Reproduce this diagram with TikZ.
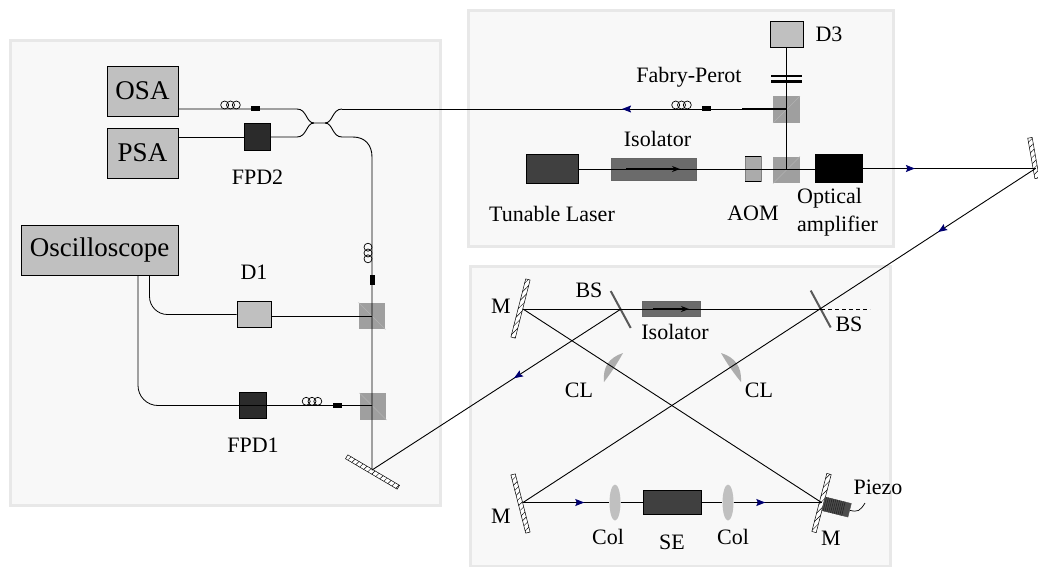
\documentclass[tikz,border=0pt]{standalone}
\usepackage{fontspec}
\setmainfont{Liberation Serif}
\usetikzlibrary{positioning,calc,arrows.meta,decorations.markings,patterns.meta,shapes.geometric}

\definecolor{panelfill}{HTML}{F8F8F8}
\definecolor{paneledge}{HTML}{E8E8E8}
\definecolor{instrgray}{HTML}{C0C0C0}
\definecolor{cubegray}{HTML}{9F9F9F}
\definecolor{tipblue}{HTML}{000070}

\tikzset{
  panel/.style={draw=paneledge,fill=panelfill,line width=3pt},
  box/.style={draw,inner sep=0pt,line width=.8pt},
  instr/.style={box,fill=instrgray,minimum width=71pt,minimum height=50pt,font=\fontsize{27}{30}\selectfont},
  det/.style={box,fill=instrgray,minimum width=34pt,minimum height=26.5pt},
  fpd/.style={box,fill=black!83,minimum width=26.5pt,minimum height=26.5pt},
  cube/.style={fill=cubegray,inner sep=0pt,minimum size=26.5pt},
  plug/.style={fill=black,inner sep=0pt,minimum width=9pt,minimum height=5pt},
  iso/.style={draw=black!60,fill=black!58,inner sep=0pt},
  lens/.style={ellipse,fill=instrgray,inner sep=0pt,minimum width=11pt,minimum height=36pt},
  mirror/.style={draw,line width=.5pt,fill=white,postaction={pattern={Lines[angle=45,distance=4.5pt,line width=.45pt]}},inner sep=0pt,minimum width=60pt,minimum height=4.5pt},
  split/.style={fill=black!65,inner sep=0pt,minimum width=42pt,minimum height=2pt},
  lbl/.style={inner sep=0pt,font=\fontsize{22}{28}\selectfont},
  beam/.style={line width=.9pt},
  tip/.style={postaction={decorate,decoration={markings,mark=at position #1 with {\arrow{Stealth[length=9pt,width=7pt,inset=1.5pt,color=tipblue]}}}}},
  isotip/.style={line width=1.2pt,-{Stealth[length=8pt,width=6pt]}},
  coil/.pic={\foreach \i in {-5.8,0,5.8} \draw[line width=.7pt] (\i,0) circle (4pt);}
}

\begin{document}
\begin{tikzpicture}[x=1pt,y=-1pt,on grid]
  \useasboundingbox (0,0) rectangle (1038,566);
  \draw[panel] (10,40) rectangle (440,505);
  \draw[panel] (468,10) rectangle (893,246);
  \draw[panel] (470,266) rectangle (890,566);

  % monitoring side
  \path
  node[instr] (osa) at (142.5,91) {OSA}
  node[instr] (psa) [below=62pt of osa] {PSA}
  node[instr,minimum width=157pt] (osc) at (99.5,250) {Oscilloscope}
  node[fpd] (fpd2) at (257.5,137) {}
  node[lbl] [below=40pt of fpd2] {FPD2}
  node[det] (d1) at (254,314.5) {}
  node[lbl] [above=42pt of d1] {D1}
  node[fpd] (fpd1) at (253,405.5) {}
  node[lbl] [below=40pt of fpd1] {FPD1}
  node[cube] (bs1) at (372,316) {}
  node[cube] (bs2) at (373,406.5) {}
  node[mirror,rotate=-30.5] (m0) at (372.5,472) {}
  node[plug] (plug1) at (255.5,108.5) {}
  node[plug,minimum width=5pt,minimum height=10pt] (plug2) at (372,280) {}
  node[plug] (plug3) at (337.5,405.5) {}
  ;
  \draw[white!70!black,line width=.6pt] (bs1.north west) -- (bs1.south east);
  \draw[white!70!black,line width=.6pt] (bs2.north west) -- (bs2.south east);
  \coordinate (ul) at (297,109);
  \coordinate (ll) at (297,137);
  \coordinate (cw) at (314,123);
  \coordinate (ce) at (325,123);
  \coordinate (ur) at (342,109);
  \coordinate (lr) at (342,137);
  \coordinate (fibc) at (353,137);
  \coordinate (fibv) at (372,157);
  \coordinate (hit0) at (372,470);
  \coordinate (in2) at (372,405.5);
  \pic at (230.5,105) {coil};
  \pic[rotate=90] at (368,253) {coil};
  \pic at (312,401.3) {coil};

  \draw[beam] (osa.east |- ul) -- (ul) .. controls +(10,0) and +(-8,0) .. (cw) -- (ce)
    .. controls +(8,0) and +(-10,0) .. (ur);
  \draw[beam] (psa.east |- ll) -- (fpd2.west |- ll);
  \draw[beam] (fpd2.east |- ll) -- (ll) .. controls +(10,0) and +(-8,0) .. (cw);
  \draw[beam] (ce) .. controls +(8,0) and +(-10,0) .. (lr) -- (fibc)
    .. controls +(12,0) and +(0,-12) .. (fibv) -- (hit0);
  \draw[beam,line width=.8pt,rounded corners=18pt] ([xshift=50pt]osc.south) |- (d1.west);
  \draw[beam] (d1.east |- bs1) -- (bs1.center);
  \draw[beam,line width=.8pt,rounded corners=20pt] ([xshift=38.5pt]osc.south) |- (in2);

  % source side
  \path
  node[det,minimum width=33pt] (d3) at (786.5,34.5) {}
  node[lbl] [right=42.5pt of d3] {D3}
  node[fill=black,inner sep=0pt,minimum width=31pt,minimum height=2.5pt] (fpa) at (786.5,76) {}
  node[fill=black,inner sep=0pt,minimum width=31pt,minimum height=2.5pt] (fpb) [below=5.5pt of fpa] {}
  node[lbl] at (689,77) {Fabry-Perot}
  node[cube] (bs3) at (786.5,109.5) {}
  node[cube] (bs4) [below=60.5pt of bs3] {}
  node[box,fill=black!75,minimum width=52pt,minimum height=29pt] (laser) at (552,168.5) {}
  node[lbl] [below=45.5pt of laser] {Tunable Laser}
  node[iso,minimum width=85pt,minimum height=22pt] (iso1) at (653.5,169.5) {}
  node[lbl] [above=30.5pt of iso1,xshift=4pt] {Isolator}
  node[draw=black!50,fill=black!33,inner sep=0pt,minimum width=15.5pt,minimum height=25pt] (aom) at (753,169) {}
  node[lbl] [below=44pt of aom] {AOM}
  node[fill=black,inner sep=0pt,minimum width=48pt,minimum height=29pt] (amp) at (839,168.5) {}
  node[lbl,align=left,anchor=west] at (797,212) {Optical\\amplifier}
  node[plug] (plug4) at (706.5,108.5) {}
  node[mirror,minimum width=41pt,rotate=-80] (m1) at (1033.5,158) {}
  ;
  \draw[white!70!black,line width=.6pt] (bs3.south west) -- (bs3.north east);
  \draw[white!70!black,line width=.6pt] (bs4.south west) -- (bs4.north east);
  \draw[line width=1pt] (aom.north west) -- (aom.north east);
  \draw[line width=1pt] (aom.south west) -- (aom.south east);
  \coordinate (hit1) at (1035.5,168.5);
  \coordinate (iso1a) at (626,169);
  \coordinate (iso1b) at (680,169);
  \coordinate (bs3in) at (786.5,109);
  \coordinate (bs3out) at (742,109);
  \coordinate (bs4in) at (786.5,169);
  \pic at (681.5,105) {coil};

  \draw[beam,tip=.37] (bs3in) -- (ur);
  \draw[beam,line width=1.2pt] (bs3in) -- (bs3out);
  \draw[beam] (d3.south) -- (bs4in);
  \draw[beam] (laser.east |- bs4in) -- (amp.west |- bs4in);
  \draw[isotip] (iso1a) -- (iso1b);
  \draw[beam,tip=.3] (amp.east) -- (hit1);

  % ring cavity
  \path
  node[mirror,rotate=75.7] (m2) at (520.5,308.5) {}
  node[lbl] at (501,306) {M}
  node[mirror,rotate=-75.7] (m3) at (520.5,503.5) {}
  node[lbl] at (501,516) {M}
  node[mirror,rotate=75.5] (m4) at (821.5,503) {}
  node[lbl] at (831,538) {M}
  node[split,rotate=-61.6] (bsl) at (620.7,309.5) {}
  node[lbl] at (589,290) {BS}
  node[split,rotate=-61.6] (bsr) at (820.7,309) {}
  node[lbl] at (849,324) {BS}
  node[iso,minimum width=58pt,minimum height=15pt] (iso2) at (671,309) {}
  node[lbl] [below=23pt of iso2,xshift=4pt] {Isolator}
  node[lbl] (cl1) at (579,390) {CL}
  node[lbl] (cl2) at (759,390) {CL}
  node[box,fill=black!75,minimum width=58pt,minimum height=24pt] (se) at (672,502.5) {}
  node[lbl] [below=39.5pt of se] {SE}
  node[lens] (col1) at (615,502.5) {}
  node[lbl] [below=34.5pt of col1,xshift=-7pt] {Col}
  node[lens] (col2) at (728,502.5) {}
  node[lbl] [below=34.5pt of col2,xshift=5pt] {Col}
  node[fill=black!70,draw=black!70,inner sep=0pt,minimum width=27pt,minimum height=14pt,rotate=-14] (pz) at (836.5,507) {}
  node[lbl] at (878,487) {Piezo}
  ;
  \foreach \i in {.06,.13,...,.8}
    \draw[black!90,line width=.4pt] ($(pz.north west)!\i!(pz.north east)$) -- ($(pz.south west)!\i!(pz.south east)$);
  \fill[instrgray!90!black] (623,353) .. controls (608.9,357.6) and (602.5,367.2) .. (604,382)
    .. controls (611,373) and (617.5,363) .. cycle;
  \fill[instrgray!90!black] (721,353) .. controls (735.3,357.4) and (741.9,367) .. (741,382)
    .. controls (733.5,373) and (727,363.5) .. cycle;
  \coordinate (hit2) at (523,309);
  \coordinate (hit3) at (523,502.5);
  \coordinate (hit4) at (821.5,502.5);
  \coordinate (bsl0) at (621,309);
  \coordinate (bsr0) at (821,309);
  \coordinate (dashend) at (870,309);
  \coordinate (iso2a) at (653,309);
  \coordinate (iso2b) at (689,309);
  \coordinate (pzcable) at (865,503);

  \draw[beam] (hit2) -- (bsr0);
  \draw[isotip] (iso2a) -- (iso2b);
  \draw[beam,dashed,dash pattern=on 4pt off 3pt,line width=.7pt] (bsr0) -- (dashend);
  \draw[beam,tip=.19] (hit1) -- (hit3);
  \draw[beam,tip=.43] (bsl0) -- (hit0);
  \draw[beam] (hit2) -- (hit4);
  \draw[beam,tip=.71] (hit3) -- (col1.west);
  \draw[beam] (col1.east) -- (se.west);
  \draw[beam] (se.east) -- (col2.west);
  \draw[beam,tip=.36] (col2.east) -- (hit4);
  \draw[line width=.7pt] (pz.east) .. controls +(8,2) and +(-5,8) .. (pzcable);
\end{tikzpicture}
\end{document}
